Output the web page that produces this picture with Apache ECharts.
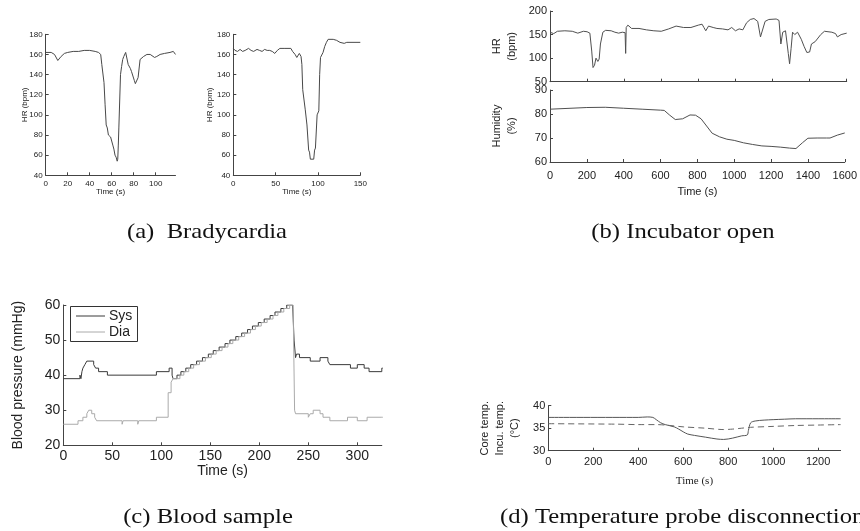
<!DOCTYPE html>
<html><head><meta charset="utf-8">
<script src="https://cdn.jsdelivr.net/npm/echarts@6/dist/echarts.min.js"></script>
<style>html,body{margin:0;padding:0;background:#fff}#c{width:860px;height:531px}</style>
</head><body><div id="c"></div>
<script>
// ---- (a) Bradycardia, left ----
const a1Time = [0,5,8,11,14,17,20,25,30,35,40,45,48,50,51,53,54,55,56,57,59,60,61,62,63,64,65,65.5,66,66.5,67.5,68,69,70,71,72.7,75,77,78,80.6,81.5,82.7,84,85.8,89,92,95,99,101,104,108,113,116,118];
const a1HR   = [162,162,160,154,158,161,162,163,163,164,164,163,162,160,150,132,110,90,87,80,78,78,70,66,60,58,54,56,70,87,87,140,148,155,158,162,150,146,143,134,131,132,137,155,158,160,160,157,158,160,161,162,163,160];
// ---- (a) Bradycardia, right ----
const a2Time = [0,2,5,8,11,14,18,21,24,28,31,34,37,40,43,46,49,52,55,60,68,70,73,75,77,78,80,81,82,85,87,89,90,91,93,95,96,97,99,101,102,103,106,108,110,112,118,122,126,131,134,150];
const a2HR   = [166,164,163,165,163,164,166,164,163,165,164,163,165,164,164,163,161,164,166,166,166,163,160,157,158,161,158,150,125,105,90,65,63,56,55,56,65,67,100,104,140,157,162,168,172,175,175,174,172,171,172,172];
// ---- (b) Incubator open ----
const bTime = [0,20,40,80,120,150,180,200,215,225,232,240,248,258,265,272,285,300,330,350,370,390,405,408,411,420,440,480,520,560,600,640,680,720,760,800,820,830,840,855,880,900,930,960,980,1000,1020,1040,1060,1080,1100,1120,1135,1145,1160,1180,1220,1235,1245,1255,1270,1280,1285,1292,1300,1308,1320,1335,1355,1370,1385,1400,1410,1430,1460,1480,1520,1540,1550,1570,1600];
const bHR   = [155,152,157,158,157,153,157,156,153,115,80,85,100,93,98,130,155,159,158,155,153,155,154,110,165,170,163,163,160,158,157,162,168,165,165,170,172,165,158,168,165,163,162,160,165,158,162,160,175,182,184,178,145,145,178,182,183,180,130,155,158,160,110,88,120,155,150,155,140,125,112,113,130,135,150,157,155,152,145,150,153];
const humTime = [0,200,300,400,500,600,620,650,680,720,760,790,820,850,880,920,960,1000,1050,1100,1150,1200,1250,1300,1335,1370,1400,1450,1500,1520,1560,1600];
const humidity = [82,82.7,82.8,82.4,82,81.6,81.5,79.5,77.7,78,79.6,79.5,78,75,72,70.5,69.5,69,68,67.3,66.7,66.5,66.2,65.8,65.6,68,69.9,70,70,70,71.2,72.1];
// ---- (c) Blood sample (step changes: [time, new value]) ----
const sysTime = [0,17,18,19,20,22,24,26,31,33,36,45,95,108,111,112,116,120,125,130,136,142,148,153,159,165,170,176,182,188,193,199,205,211,216,222,228,234,235.5,237,238,241,252,262,270,272,293,300,307,312,325,326];
const sysBP   = [39,40,39,41,42,43,44,44,43,42,41,40,41,42,40,39,40,41,42,43,44,45,46,47,48,49,50,51,52,53,54,55,56,57,58,59,60,60,50,45,46,45,44,45,44,43,42,43,42,41,42,42];
const diaTime = [0,15,20,24,26,29,32,34,60,61,76,77,95,107,110,112,119,123,128,133,139,145,151,156,162,168,173,179,185,191,196,202,208,214,219,225,231,234.5,236,237,250,252,255,262,265,272,290,300,310,325,326];
const diaBP   = [26,27,28,29,30,29,28,27,26,27,26,27,28,35,38,39,40,41,42,43,44,45,46,47,48,49,50,51,52,53,54,55,56,57,58,59,60,60,30,29,28,29,30,29,28,27,28,27,28,28,28];
const bpNames = ['Sys', 'Dia'];
// ---- (d) Temperature probe disconnection ----
const coreTime = [0,400,440,465,480,500,520,560,580,600,620,650,700,750,780,820,860,885,890,900,920,960,1000,1050,1100,1200,1300];
const coreTemp = [37.4,37.4,37.5,37.4,36.9,36.2,35.8,35.3,34.8,34.2,33.7,33.4,33.0,32.6,32.5,32.8,33.3,33.5,34.5,36.2,36.6,36.8,36.9,37.0,37.1,37.1,37.1];
const incuTime = [0,300,400,480,520,600,700,780,820,860,900,1000,1100,1200,1300];
const incuTemp = [36.0,35.9,35.8,35.8,35.7,35.3,35.0,34.7,34.8,35.0,35.2,35.4,35.6,35.7,35.8];

// tick labels
const aHRTicks = [40,60,80,100,120,140,160,180];
const a1TimeTicks = [0,20,40,60,80,100];
const a2TimeTicks = [0,50,100,150];
const bTimeTicks = [0,200,400,600,800,1000,1200,1400,1600];
const bHRTicks = [50,100,150,200];
const humTicks = [60,70,80,90];
const cTimeTicks = [0,50,100,150,200,250,300];
const cBPTicks = [20,30,40,50,60];
const dTimeTicks = [0,200,400,600,800,1000,1200];
const dTempTicks = [30,35,40];

const captions = ['(a)  Bradycardia','(b) Incubator open','(c) Blood sample','(d) Temperature probe disconnection'];

const zip = (t, v) => t.map((x, i) => [x, v[i]]);
const SANS = 'Liberation Sans';
const SERIF = 'Liberation Serif';
const AX = '#444';
const plain = v => String(v);

function xAx(gi, min, max, ticks, fs, name, gap, showLabels, nameFont, margin) {
  return {
    type: 'value', gridIndex: gi, min: min, max: max,
    name: name || '', nameLocation: 'middle', nameGap: gap || 0,
    nameTextStyle: { fontFamily: nameFont || SANS, fontSize: fs, color: '#222' },
    axisLine: { onZero: false, lineStyle: { color: AX, width: 1 } },
    axisTick: { inside: true, length: 3, customValues: ticks, lineStyle: { color: AX } },
    axisLabel: { show: showLabels !== false, customValues: ticks, formatter: plain, fontFamily: SANS, fontSize: fs, color: '#222', margin: margin || 4 },
    splitLine: { show: false }
  };
}
function yAx(gi, min, max, ticks, fs, name, gap, noMove) {
  const ax = {
    type: 'value', gridIndex: gi, min: min, max: max,
    name: name || '', nameLocation: 'middle', nameGap: gap || 0, nameRotate: 90,
    nameTextStyle: { fontFamily: SANS, fontSize: fs, color: '#222', lineHeight: fs * 1.35 },
    axisLine: { onZero: false, lineStyle: { color: AX, width: 1 } },
    axisTick: { inside: true, length: 3, customValues: ticks, lineStyle: { color: AX } },
    axisLabel: { customValues: ticks, formatter: plain, fontFamily: SANS, fontSize: fs, color: '#222', margin: 3 },
    splitLine: { show: false }
  };
  if (noMove) ax.nameMoveOverlap = false;
  return ax;
}
function line(xi, yi, data, color, extra) {
  return Object.assign({
    type: 'line', xAxisIndex: xi, yAxisIndex: yi, data: data,
    symbol: 'none', animation: false, silent: true,
    lineStyle: { color: color, width: 1 }, itemStyle: { color: color }
  }, extra || {});
}

const SYS_C = '#3a3a3a', DIA_C = '#aaaaaa';
const capFont = '22px "Liberation Serif"';
function cap(text, x, y, align) {
  return { type: 'text', x: x, y: y, scaleX: 1.12, style: { text: text, font: capFont, fill: '#111', align: align || 'center', verticalAlign: 'middle' } };
}

const option = {
  animation: false,
  backgroundColor: '#fff',
  grid: [
    { left: 45.7, top: 34.3, width: 129.8, height: 141 },
    { left: 233.3, top: 34.3, width: 127, height: 141 },
    { left: 550, top: 11, width: 296.7, height: 70.7 },
    { left: 550, top: 90, width: 296.7, height: 72 },
    { left: 63.3, top: 305, width: 318.5, height: 140.3 },
    { left: 548.3, top: 405.7, width: 292.3, height: 45 }
  ],
  xAxis: [
    xAx(0, 0, 118, a1TimeTicks, 8, 'Time (s)', 12),
    xAx(1, 0, 150, a2TimeTicks, 8, 'Time (s)', 12),
    xAx(2, 0, 1600, bTimeTicks, 11, '', 0, false),
    xAx(3, 0, 1600, bTimeTicks, 11, 'Time (s)', 24, true, SANS, 8),
    xAx(4, 0, 325, cTimeTicks, 14, 'Time (s)', 19),
    xAx(5, 0, 1300, dTimeTicks, 11, 'Time (s)', 25, true, SERIF, 6)
  ],
  yAxis: [
    yAx(0, 40, 180, aHRTicks, 8, 'HR (bpm)', 16, true),
    yAx(1, 40, 180, aHRTicks, 8, 'HR (bpm)', 18, true),
    yAx(2, 50, 200, bHRTicks, 11, 'HR\n(bpm)', 31),
    yAx(3, 60, 90, humTicks, 11, 'Humidity\n(%)', 31),
    yAx(4, 20, 60, cBPTicks, 14, 'Blood pressure (mmHg)', 36),
    yAx(5, 30, 40, dTempTicks, 11, 'Core temp.\nIncu. temp.\n(°C)', 26)
  ],
  series: [
    line(0, 0, zip(a1Time, a1HR), '#484848'),
    line(1, 1, zip(a2Time, a2HR), '#484848'),
    line(2, 2, zip(bTime, bHR), '#505050'),
    line(3, 3, zip(humTime, humidity), '#505050'),
    line(4, 4, zip(sysTime, sysBP), SYS_C, { name: bpNames[0], step: 'end' }),
    line(4, 4, zip(diaTime, diaBP), DIA_C, { name: bpNames[1], step: 'end' }),
    line(5, 5, zip(coreTime, coreTemp), '#555555', { smooth: 0.3 }),
    line(5, 5, zip(incuTime, incuTemp), '#666666', { smooth: 0.3, lineStyle: { color: '#666', width: 1, type: [6, 4] } })
  ],
  graphic: [
    cap(captions[0], 207, 232),
    cap(captions[1], 683, 232),
    cap(captions[2], 208, 517),
    cap(captions[3], 500, 517, 'left'),
    // legend box for panel (c)
    { type: 'rect', shape: { x: 70.5, y: 306.5, width: 67, height: 35 }, style: { fill: '#fff', stroke: '#333', lineWidth: 1 }, z: 50 },
    { type: 'line', shape: { x1: 76, y1: 316, x2: 105, y2: 316 }, style: { stroke: SYS_C, lineWidth: 1 }, z: 51 },
    { type: 'line', shape: { x1: 76, y1: 332, x2: 105, y2: 332 }, style: { stroke: DIA_C, lineWidth: 1 }, z: 51 },
    { type: 'text', x: 109, y: 316, style: { text: bpNames[0], font: '14px "Liberation Sans"', fill: '#222', verticalAlign: 'middle' }, z: 51 },
    { type: 'text', x: 109, y: 332, style: { text: bpNames[1], font: '14px "Liberation Sans"', fill: '#222', verticalAlign: 'middle' }, z: 51 }
  ]
};
const chart = echarts.init(document.getElementById('c'), null, { renderer: 'canvas' });
chart.setOption(option);
</script></body></html>
